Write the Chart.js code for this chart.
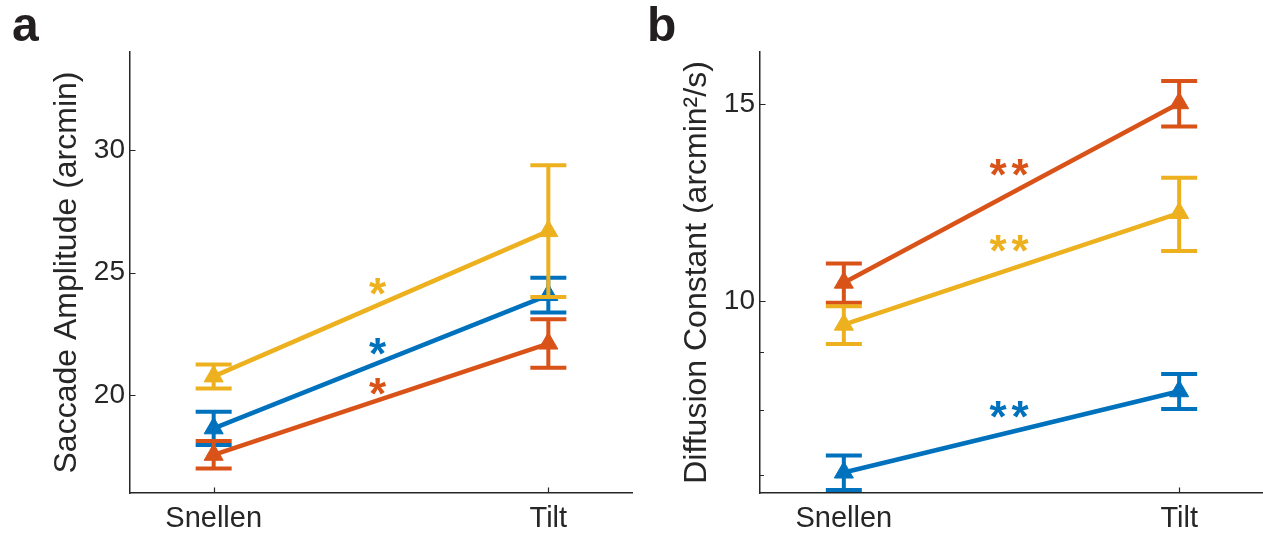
<!DOCTYPE html>
<html>
<head>
<meta charset="utf-8">
<script src="https://cdn.jsdelivr.net/npm/chart.js@4.4.1/dist/chart.umd.min.js"></script>
<style>
  html, body { margin: 0; padding: 0; background: #fff; }
  #wrap { position: relative; width: 1263px; height: 535px; overflow: hidden; }
  .panel { position: absolute; top: 0; height: 535px; }
  .letter { position: absolute; font: bold 48px 'Liberation Sans', Arial, sans-serif; line-height: 1; color: #231f20; }
</style>
</head>
<body>
<div id="wrap">
  <div class="panel" style="left:0;width:640px"><canvas id="chartA"></canvas></div>
  <div class="panel" style="left:640px;width:623px"><canvas id="chartB"></canvas></div>
  <div class="letter" style="left:12px;top:1px">a</div>
  <div class="letter" style="left:647px;top:1px">b</div>
</div>
<script>
// categories on the x axis
const categories = ['Snellen', 'Tilt'];
const seriesNames = ['Group 1', 'Group 2', 'Group 3'];
const seriesColors = ['#0072BD', '#D95319', '#EDB120'];

// panel a: saccade amplitude (arcmin), mean and error per category
const ampBlue = [18.64, 24.08];
const ampBlueErr = [0.68, 0.71];
const ampOrange = [17.56, 22.10];
const ampOrangeErr = [0.56, 0.99];
const ampYellow = [20.76, 26.69];
const ampYellowErr = [0.49, 2.69];
const ampTicks = [20, 25, 30];
const ampStars = ['*', '*', '*'];
const ampStarY = [21.99, 20.36, 24.44];

// panel b: diffusion constant (arcmin^2/s)
const diffBlue = [7.03, 8.31];
const diffBlueErr = [0.25, 0.30];
const diffOrange = [10.39, 15.03];
const diffOrangeErr = [0.42, 0.70];
const diffYellow = [9.53, 11.99];
const diffYellowErr = [0.37, 0.90];
const diffTicks = [7, 8, 9, 10, 15];
const diffTickLabels = ['', '', '', '10', '15'];
const diffStars = ['**', '**', '**'];
const diffStarY = [8.0, 13.17, 11.26];

const FONT = "'Liberation Sans', Arial, Helvetica, sans-serif";
const INK = '#262626';
Chart.defaults.font.family = FONT;
Chart.defaults.color = INK;

// error bars, drawn right after each series
const errorBars = {
  id: 'errorBars',
  afterDatasetDraw(chart, args) {
    const ds = chart.data.datasets[args.index];
    if (!ds.errors) return;
    const ctx = chart.ctx, xs = chart.scales.x, ys = chart.scales.y;
    ctx.save();
    ctx.strokeStyle = ds.borderColor;
    ctx.lineCap = 'butt';
    ds.data.forEach((p, j) => {
      const px = xs.getPixelForValue(p.x);
      const top = ys.getPixelForValue(p.y + ds.errors[j]);
      const bot = ys.getPixelForValue(p.y - ds.errors[j]);
      ctx.lineWidth = 4;
      ctx.beginPath();
      ctx.moveTo(px, top); ctx.lineTo(px, bot);
      ctx.moveTo(px - 18, top); ctx.lineTo(px + 18, top);
      ctx.moveTo(px - 18, bot); ctx.lineTo(px + 18, bot);
      ctx.stroke();
    });
    ctx.restore();
  }
};

// inward tick marks like the original axes
const inTicks = {
  id: 'inTicks',
  beforeDatasetsDraw(chart, args, opts) {
    const ctx = chart.ctx, xs = chart.scales.x, ys = chart.scales.y;
    const area = chart.chartArea;
    const minor = opts.minor || [];
    ctx.save();
    ctx.strokeStyle = INK;
    ctx.lineWidth = 1.2;
    ctx.beginPath();
    ys.ticks.forEach(t => {
      const py = Math.round(ys.getPixelForValue(t.value)) + 0.5;
      const len = minor.includes(t.value) ? 4 : 5.5;
      ctx.moveTo(area.left, py); ctx.lineTo(area.left + len, py);
    });
    xs.ticks.forEach(t => {
      const px = Math.round(xs.getPixelForValue(t.value)) + 0.5;
      ctx.moveTo(px, area.bottom); ctx.lineTo(px, area.bottom - 5.5);
    });
    ctx.stroke();
    ctx.restore();
  }
};

// significance stars between the two conditions
const stars = {
  id: 'stars',
  afterDatasetsDraw(chart, args, opts) {
    const ctx = chart.ctx, xs = chart.scales.x, ys = chart.scales.y;
    ctx.save();
    ctx.font = 'bold 44px ' + FONT;
    ctx.textAlign = 'center';
    ctx.textBaseline = 'alphabetic';
    ctx.letterSpacing = opts.spacing || '0px';
    opts.labels.forEach((s, i) => {
      const px = xs.getPixelForValue(opts.x);
      const py = ys.getPixelForValue(opts.y[i]);
      const m = ctx.measureText(s);
      ctx.fillStyle = seriesColors[i];
      ctx.fillText(s, px, py + (m.actualBoundingBoxAscent - m.actualBoundingBoxDescent) / 2);
    });
    ctx.restore();
  }
};

function makeDatasets(means, errs) {
  return means.map((m, i) => ({
    label: seriesNames[i],
    data: categories.map((c, j) => ({ x: j + 1, y: m[j] })),
    errors: errs[i],
    borderColor: seriesColors[i],
    backgroundColor: seriesColors[i],
    borderWidth: 4.5,
    showLine: true,
    pointStyle: 'triangle',
    pointRadius: 11,
    pointBorderWidth: 1,
    order: 3 - i,
    clip: false
  }));
}

function xAxis() {
  return {
    type: 'linear', min: 0.75, max: 2.25,
    afterBuildTicks: s => { s.ticks = categories.map((c, j) => ({ value: j + 1 })); },
    afterFit: s => { s.height = 42; },
    grid: { display: false, drawTicks: false },
    border: { display: true, color: INK, width: 1.5 },
    ticks: {
      autoSkip: false, maxRotation: 0, padding: 9,
      font: { size: 29 }, color: INK,
      callback: v => categories[Math.round(v) - 1]
    }
  };
}

const chartA = new Chart(document.getElementById('chartA'), {
  type: 'scatter',
  data: {
    datasets: makeDatasets([ampBlue, ampOrange, ampYellow], [ampBlueErr, ampOrangeErr, ampYellowErr])
  },
  options: {
    responsive: true, maintainAspectRatio: false, animation: false,
    layout: { autoPadding: false, padding: { left: 0, top: 52, right: 8, bottom: 0 } },
    plugins: {
      legend: { display: false }, tooltip: { enabled: false },
      inTicks: {},
      stars: { labels: ampStars, x: 1.49, y: ampStarY }
    },
    scales: {
      x: xAxis(),
      y: {
        type: 'linear', min: 16, max: 34,
        afterBuildTicks: s => { s.ticks = ampTicks.map(v => ({ value: v })); },
        afterFit: s => { s.width = 130; },
        grid: { display: false, drawTicks: false },
        border: { display: true, color: INK, width: 1.5 },
        ticks: { padding: 5, font: { size: 28 }, color: INK, callback: v => String(v) },
        title: { display: true, text: 'Saccade Amplitude (arcmin)', font: { size: 32 }, color: INK, padding: { top: 48, bottom: 0 } }
      }
    }
  },
  plugins: [errorBars, inTicks, stars]
});

const chartB = new Chart(document.getElementById('chartB'), {
  type: 'scatter',
  data: {
    datasets: makeDatasets([diffBlue, diffOrange, diffYellow], [diffBlueErr, diffOrangeErr, diffYellowErr])
  },
  options: {
    responsive: true, maintainAspectRatio: false, animation: false,
    layout: { autoPadding: false, padding: { left: 0, top: 52, right: 0, bottom: 0 } },
    plugins: {
      legend: { display: false }, tooltip: { enabled: false },
      inTicks: { minor: [7, 8, 9] },
      stars: { labels: diffStars, x: 1.5, y: diffStarY, spacing: '5px' }
    },
    scales: {
      x: xAxis(),
      y: {
        type: 'logarithmic', min: 6.74, max: 16.7,
        afterBuildTicks: s => { s.ticks = diffTicks.map(v => ({ value: v })); },
        afterFit: s => { s.width = 120; },
        grid: { display: false, drawTicks: false },
        border: { display: true, color: INK, width: 1.5 },
        ticks: { padding: 5, font: { size: 28 }, color: INK, callback: (v, i) => diffTickLabels[i] },
        title: { display: true, text: 'Diffusion Constant (arcmin²/s)', font: { size: 32 }, color: INK, padding: { top: 38, bottom: 0 } }
      }
    }
  },
  plugins: [errorBars, inTicks, stars]
});
</script>
</body>
</html>
